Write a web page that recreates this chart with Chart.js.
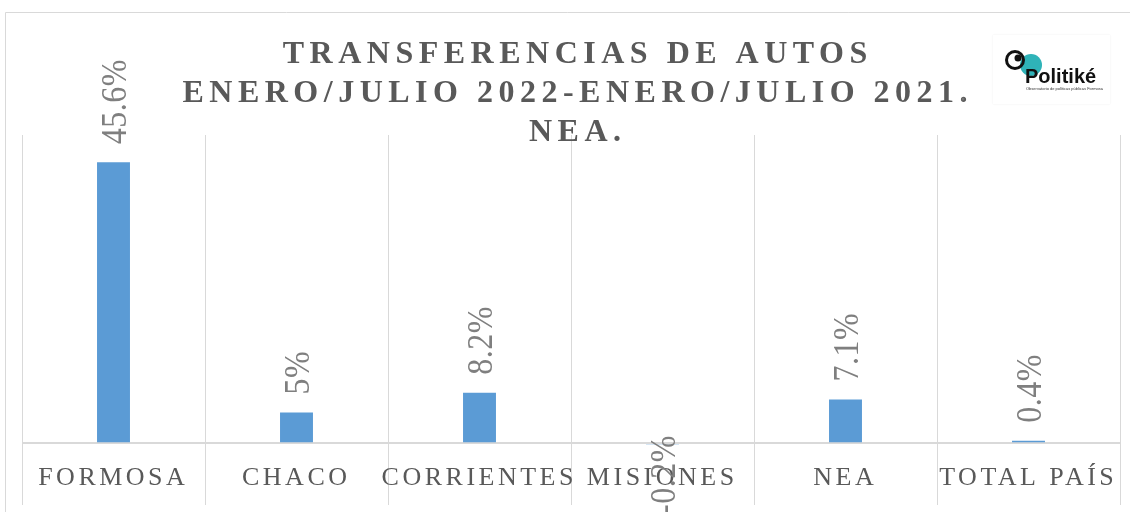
<!DOCTYPE html>
<html>
<head>
<meta charset="utf-8">
<script src="https://cdn.jsdelivr.net/npm/chart.js@4/dist/chart.umd.min.js"></script>
<style>
html,body{margin:0;padding:0;background:#fff;}
#wrap{width:1130px;height:512px;position:relative;}
</style>
</head>
<body>
<div id="wrap"><canvas id="c" width="1130" height="512"></canvas></div>
<script>
const categories = ["FORMOSA", "CHACO", "CORRIENTES", "MISIONES", "NEA", "TOTAL PAÍS"];
const values = [45.6, 5, 8.2, -0.2, 7.1, 0.4];
const valueLabels = ["45.6%", "5%", "8.2%", "-0.2%", "7.1%", "0.4%"];
const titleLines = ["TRANSFERENCIAS DE AUTOS", "ENERO/JULIO 2022-ENERO/JULIO 2021.", "NEA."];

const SERIF = '"Liberation Serif", "DejaVu Serif", serif';

function spacedText(ctx, text, x, y, spacing) {
  ctx.letterSpacing = spacing + 'px';
  const w = ctx.measureText(text).width - spacing;
  const align = ctx.textAlign;
  let start = x;
  if (align === 'center') start = x - w / 2;
  else if (align === 'right') start = x - w;
  ctx.textAlign = 'left';
  ctx.fillText(text, start, y);
  ctx.textAlign = align;
}

const decor = {
  id: 'decor',
  beforeDraw(chart) {
    const ctx = chart.ctx;
    ctx.save();
    ctx.fillStyle = '#fff';
    ctx.fillRect(0, 0, chart.width, chart.height);
    ctx.strokeStyle = '#d9d9d9';
    ctx.lineWidth = 1;
    ctx.beginPath();
    ctx.moveTo(5.5, 512);
    ctx.lineTo(5.5, 12.5);
    ctx.lineTo(1130, 12.5);
    ctx.stroke();
    ctx.restore();
  },
  afterDraw(chart) {
    const ctx = chart.ctx;
    const xs = chart.scales.x;
    const ys = chart.scales.y;
    ctx.save();
    // title
    ctx.fillStyle = '#595959';
    ctx.font = 'bold 32px ' + SERIF;
    ctx.textAlign = 'center';
    ctx.textBaseline = 'alphabetic';
    const baselines = [63, 102, 141];
    titleLines.forEach((t, i) => spacedText(ctx, t, 575, baselines[i], 5.5));

    // category labels
    ctx.font = '26px ' + SERIF;
    ctx.fillStyle = '#595959';
    ctx.textAlign = 'center';
    const zeroY = ys.getPixelForValue(0);
    categories.forEach((c, i) => {
      spacedText(ctx, c, xs.getPixelForValue(i) - 2, zeroY + 42, 3.5);
    });

    // value labels (rotated)
    ctx.font = '32px ' + SERIF;
    ctx.fillStyle = '#7f7f7f';
    const meta = chart.getDatasetMeta(0);
    meta.data.forEach((bar, i) => {
      const v = values[i];
      ctx.save();
      ctx.translate(bar.x + 12, v >= 0 ? bar.y - 18 : bar.y - 9);
      ctx.rotate(-Math.PI / 2);
      ctx.scale(1, 1.12);
      ctx.textAlign = v >= 0 ? 'left' : 'right';
      ctx.textBaseline = 'alphabetic';
      spacedText(ctx, valueLabels[i], 0, 0, 0.5);
      ctx.restore();
    });

    // logo
    ctx.letterSpacing = '0px';
    ctx.fillStyle = '#ffffff';
    ctx.shadowColor = 'rgba(0,0,0,0.07)';
    ctx.shadowBlur = 2;
    ctx.fillRect(993, 35, 117, 69);
    ctx.shadowBlur = 0;
    ctx.shadowColor = 'transparent';
    ctx.fillStyle = '#2fb3b8';
    ctx.beginPath(); ctx.arc(1031, 65, 11, 0, Math.PI * 2); ctx.fill();
    ctx.strokeStyle = '#111';
    ctx.lineWidth = 3;
    ctx.beginPath(); ctx.arc(1015, 60, 8.5, 0, Math.PI * 2); ctx.stroke();
    ctx.fillStyle = '#111';
    ctx.beginPath(); ctx.arc(1018, 58, 3.5, 0, Math.PI * 2); ctx.fill();
    ctx.textAlign = 'left';
    ctx.font = 'bold 20px "Liberation Sans", Arial, sans-serif';
    ctx.fillText('Politiké', 1025, 83);
    ctx.font = '4px "Liberation Sans", Arial, sans-serif';
    ctx.fillStyle = '#333';
    ctx.fillText('Observatorio de políticas públicas Formosa', 1026, 90);
    ctx.fillStyle = '#777';
    ctx.beginPath(); ctx.arc(963, 99, 1.5, 0, Math.PI * 2); ctx.fill();
    ctx.restore();
  }
};

new Chart(document.getElementById('c'), {
  type: 'bar',
  data: {
    labels: categories,
    datasets: [{
      data: values,
      backgroundColor: '#5b9bd5',
      borderWidth: 0,
      barPercentage: 0.18,
      categoryPercentage: 1
    }]
  },
  options: {
    responsive: false,
    animation: false,
    events: [],
    layout: { padding: { left: 22, right: 10, top: 135, bottom: 7 } },
    plugins: { legend: { display: false }, title: { display: false }, tooltip: { enabled: false } },
    scales: {
      x: {
        offset: true,
        grid: { display: true, offset: true, color: '#d9d9d9', lineWidth: 1, drawTicks: false },
        border: { display: false },
        ticks: { display: false }
      },
      y: {
        min: -10, max: 50,
        ticks: { display: false, stepSize: 10 },
        grid: {
          drawTicks: false,
          color: (c) => c.tick && c.tick.value === 0 ? '#d9d9d9' : 'rgba(0,0,0,0)',
          lineWidth: (c) => c.tick && c.tick.value === 0 ? 2 : 0
        },
        border: { display: false }
      }
    }
  },
  plugins: [decor]
});
</script>
</body>
</html>
